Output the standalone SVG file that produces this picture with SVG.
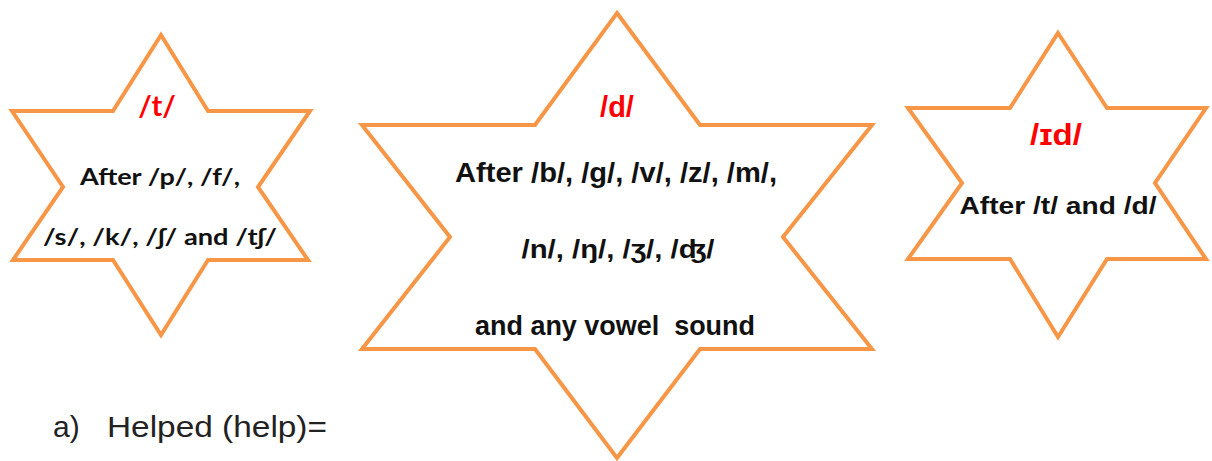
<svg xmlns="http://www.w3.org/2000/svg" width="1212" height="461" viewBox="0 0 1212 461">
<style>
.star{fill:#fff;stroke:#F79646;stroke-width:4;stroke-linejoin:miter}
.t1{font-family:Lato,"Open Sans","Liberation Sans",sans-serif;font-weight:bold;fill:#111;text-anchor:middle}
.t2{font-family:"Liberation Sans",Arial,sans-serif;font-weight:bold;fill:#111;text-anchor:middle}
.red{fill:#FF0000}
.body{font-family:"Liberation Sans",Arial,sans-serif;fill:#222}
</style>
<rect width="1212" height="461" fill="#fff"/>
<g id="star-t">
<polygon class="star" points="161,35 208,111 310,111 258,187 308,260 208,260 161,335 113,260 13,260 63,187 12,111 113,111"/>
<text class="t1 red" x="157" y="116" font-size="29">/t/</text>
<text class="t1" x="160" y="185" font-size="22" textLength="160" lengthAdjust="spacingAndGlyphs">After /p/, /f/,</text>
<text class="t1" x="160" y="245" font-size="22" textLength="234" lengthAdjust="spacingAndGlyphs">/s/, /k/, /ʃ/ and /tʃ/</text>
</g>
<g id="star-d">
<polygon class="star" points="617,13 700,125 872,125 783,237 872,349 700,349 617,458 535,349 362,349 450,237 362,125 535,125"/>
<text class="t2 red" x="617" y="117" font-size="29">/d/</text>
<text class="t2" x="616" y="182" font-size="27" textLength="322" lengthAdjust="spacingAndGlyphs">After /b/, /g/, /v/, /z/, /m/,</text>
<text class="t2" x="618" y="258" font-size="26" textLength="193" lengthAdjust="spacingAndGlyphs">/n/, /ŋ/, /ʒ/, /ʤ/</text>
<text class="t2" x="615" y="335" font-size="27" textLength="280" lengthAdjust="spacingAndGlyphs" xml:space="preserve">and any vowel  sound</text>
</g>
<g id="star-id">
<polygon class="star" points="1058,33 1107,108 1206,108 1155,183 1206,259 1107,259 1058,337 1010,259 908,259 962,183 908,108 1010,108"/>
<text class="t2 red" x="1056" y="145" font-size="29" textLength="52" lengthAdjust="spacingAndGlyphs">/ɪd/</text>
<text class="t2" x="1058" y="214" font-size="24" textLength="197" lengthAdjust="spacingAndGlyphs">After /t/ and /d/</text>
</g>
<g id="caption">
<text class="body" x="53" y="437" font-size="30">a)</text>
<text class="body" x="107" y="437" font-size="30" textLength="220" lengthAdjust="spacingAndGlyphs">Helped (help)=</text>
</g>
</svg>
